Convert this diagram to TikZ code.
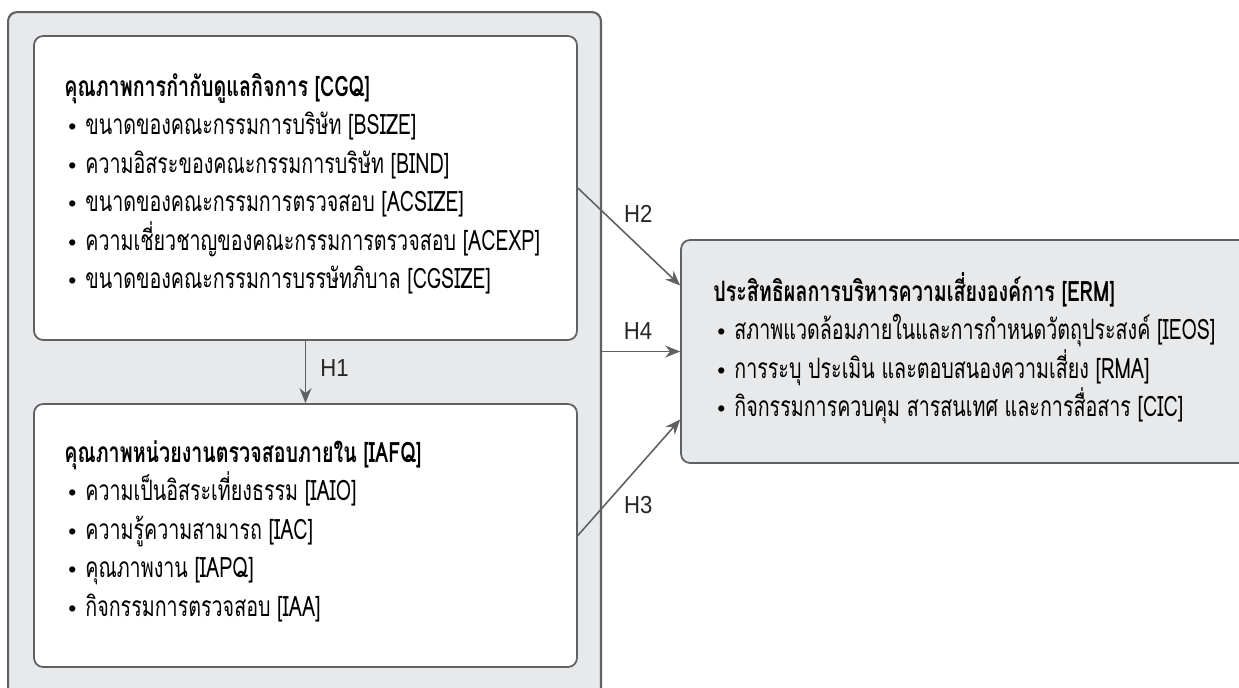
\documentclass[tikz,border=0pt]{standalone}
\usepackage{fontspec}
\usetikzlibrary{arrows.meta}
\newfontfamily\thaifont[Script=Thai,FakeStretch=0.7]{Loma}
\newfontfamily\latinfont{Liberation Sans}
\newfontfamily\hfont[FakeStretch=0.9]{Liberation Sans}

\definecolor{boxline}{HTML}{5F6062}
\definecolor{boxfill}{HTML}{E8E9EA}

\newcommand{\itm}{\makebox[0.42cm][l]{\hspace{0.08cm}\latinfont\fontsize{13}{16}\selectfont\textbullet}}

\begin{document}
\begin{tikzpicture}[x=0.02cm, y=-0.02cm,
  outbox/.style={draw=boxline, line width=1.2pt, fill=boxfill, rounded corners=0.18cm},
  inbox/.style={draw=boxline, line width=1pt, fill=white, rounded corners=0.18cm},
  resbox/.style={draw=boxline, line width=1pt, fill=boxfill, rounded corners=0.18cm},
  body/.style={anchor=north west, align=left, inner sep=0pt, font=\thaifont\fontsize{16}{21.9}\selectfont},
  link/.style={draw=boxline, line width=0.9pt, -{Stealth[length=0.3cm, width=0.24cm]}},
  hlabel/.style={font=\hfont\fontsize{14}{16}\selectfont, text=black!85}]
  \useasboundingbox (0,0) rectangle (1239,687);
  \clip (0,0) rectangle (1239,687);

  % boxes
  \node[outbox, minimum width=11.86cm, minimum height=13.8cm] (outer) at (304.5,357) {};
  \node[inbox, minimum width=10.86cm, minimum height=6.08cm] (cgq) at (305.5,188) {};
  \node[inbox, minimum width=10.86cm, minimum height=5.26cm] (iafq) at (305.5,535.5) {};
  \node[resbox, minimum width=11.58cm, minimum height=4.46cm] (erm) at (970.5,351.5) {};

  \node[body] (cgqtext) at (64,73) {\textbf{คุณภาพการกำกับดูแลกิจการ [CGQ]}\\
    \itm ขนาดของคณะกรรมการบริษัท [BSIZE]\\
    \itm ความอิสระของคณะกรรมการบริษัท [BIND]\\
    \itm ขนาดของคณะกรรมการตรวจสอบ [ACSIZE]\\
    \itm ความเชี่ยวชาญของคณะกรรมการตรวจสอบ [ACEXP]\\
    \itm ขนาดของคณะกรรมการบรรษัทภิบาล [CGSIZE]};
  \node[body] (iafqtext) at (64,440) {\textbf{คุณภาพหน่วยงานตรวจสอบภายใน [IAFQ]}\\
    \itm ความเป็นอิสระเที่ยงธรรม [IAIO]\\
    \itm ความรู้ความสามารถ [IAC]\\
    \itm คุณภาพงาน [IAPQ]\\
    \itm กิจกรรมการตรวจสอบ [IAA]};
  \node[body] (ermtext) at (713,272) {\textbf{ประสิทธิผลการบริหารความเสี่ยงองค์การ [ERM]}\\
    \itm สภาพแวดล้อมภายในและการกำหนดวัตถุประสงค์ [IEOS]\\
    \itm การระบุ ประเมิน และตอบสนองความเสี่ยง [RMA]\\
    \itm กิจกรรมการควบคุม สารสนเทศ และการสื่อสาร [CIC]};

  % hypotheses
  \draw[link] (cgq) -- (iafq) node[hlabel, midway, xshift=0.58cm, yshift=0.08cm] {H1};
  \draw[link] (cgq.east) -- ([yshift=1.32cm]erm.west) node[hlabel, pos=0.59, yshift=0.64cm] {H2};
  \draw[link] (outer.east |- erm.west) -- (erm.west) node[hlabel, midway, xshift=-0.06cm, yshift=0.4cm] {H4};
  \draw[link] (iafq.east) -- ([yshift=-1.36cm]erm.west) node[hlabel, pos=0.59, yshift=-0.76cm] {H3};
\end{tikzpicture}
\end{document}
